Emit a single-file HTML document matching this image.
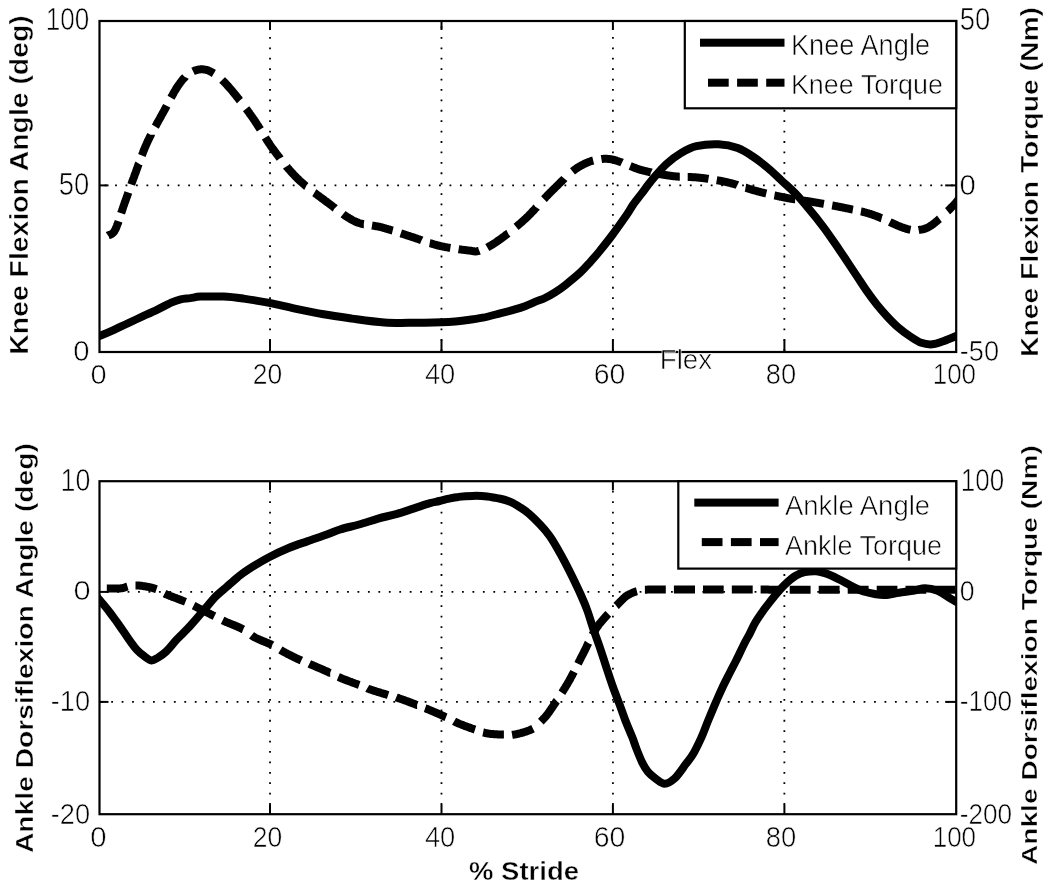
<!DOCTYPE html>
<html><head><meta charset="utf-8"><style>
html,body{margin:0;padding:0;background:#fff;}
svg{display:block;will-change:transform;}
text{font-family:"Liberation Sans",sans-serif;fill:#000;stroke:#fff;stroke-width:0.6px;}
.bt{stroke-width:0.45px;}
.g{stroke:#000;stroke-width:1.6;stroke-dasharray:1.6 8.8;fill:none;}
.c{stroke:#000;stroke-width:8;fill:none;stroke-linejoin:round;}
.d{stroke-dasharray:21 8.5;stroke-dashoffset:6;}
.ax{fill:none;stroke:#000;stroke-width:2.2;}
.tk{stroke:#000;stroke-width:2;}
.lg{fill:#fff;stroke:#000;stroke-width:2.2;}
</style></head><body>
<svg width="1050" height="890" viewBox="0 0 1050 890">
<defs><clipPath id="c1"><rect x="99.5" y="21" width="856.7" height="331"/></clipPath><clipPath id="c2"><rect x="99.5" y="481.2" width="856.7" height="333"/></clipPath></defs>
<rect width="1050" height="890" fill="#fff"/>
<path d="M269.14,26.59h1.8v1.8h-1.8zM269.14,37.00h1.8v1.8h-1.8zM269.14,47.41h1.8v1.8h-1.8zM269.14,57.82h1.8v1.8h-1.8zM269.14,68.23h1.8v1.8h-1.8zM269.14,78.64h1.8v1.8h-1.8zM269.14,89.05h1.8v1.8h-1.8zM269.14,99.46h1.8v1.8h-1.8zM269.14,109.87h1.8v1.8h-1.8zM269.14,120.28h1.8v1.8h-1.8zM269.14,130.69h1.8v1.8h-1.8zM269.14,141.10h1.8v1.8h-1.8zM269.14,151.51h1.8v1.8h-1.8zM269.14,161.92h1.8v1.8h-1.8zM269.14,172.33h1.8v1.8h-1.8zM269.14,182.74h1.8v1.8h-1.8zM269.14,193.15h1.8v1.8h-1.8zM269.14,203.56h1.8v1.8h-1.8zM269.14,213.97h1.8v1.8h-1.8zM269.14,224.38h1.8v1.8h-1.8zM269.14,234.79h1.8v1.8h-1.8zM269.14,245.20h1.8v1.8h-1.8zM269.14,255.61h1.8v1.8h-1.8zM269.14,266.02h1.8v1.8h-1.8zM269.14,276.43h1.8v1.8h-1.8zM269.14,286.84h1.8v1.8h-1.8zM269.14,297.25h1.8v1.8h-1.8zM269.14,307.66h1.8v1.8h-1.8zM269.14,318.07h1.8v1.8h-1.8zM269.14,328.48h1.8v1.8h-1.8zM269.14,338.89h1.8v1.8h-1.8zM269.14,349.30h1.8v1.8h-1.8zM269.14,490.81h1.8v1.8h-1.8zM269.14,501.22h1.8v1.8h-1.8zM269.14,511.63h1.8v1.8h-1.8zM269.14,522.04h1.8v1.8h-1.8zM269.14,532.45h1.8v1.8h-1.8zM269.14,542.86h1.8v1.8h-1.8zM269.14,553.27h1.8v1.8h-1.8zM269.14,563.68h1.8v1.8h-1.8zM269.14,574.09h1.8v1.8h-1.8zM269.14,584.50h1.8v1.8h-1.8zM269.14,594.91h1.8v1.8h-1.8zM269.14,605.32h1.8v1.8h-1.8zM269.14,615.73h1.8v1.8h-1.8zM269.14,626.14h1.8v1.8h-1.8zM269.14,636.55h1.8v1.8h-1.8zM269.14,646.96h1.8v1.8h-1.8zM269.14,657.37h1.8v1.8h-1.8zM269.14,667.78h1.8v1.8h-1.8zM269.14,678.19h1.8v1.8h-1.8zM269.14,688.60h1.8v1.8h-1.8zM269.14,699.01h1.8v1.8h-1.8zM269.14,709.42h1.8v1.8h-1.8zM269.14,719.83h1.8v1.8h-1.8zM269.14,730.24h1.8v1.8h-1.8zM269.14,740.65h1.8v1.8h-1.8zM269.14,751.06h1.8v1.8h-1.8zM269.14,761.47h1.8v1.8h-1.8zM269.14,771.88h1.8v1.8h-1.8zM269.14,782.29h1.8v1.8h-1.8zM269.14,792.70h1.8v1.8h-1.8zM269.14,803.11h1.8v1.8h-1.8zM440.58,26.59h1.8v1.8h-1.8zM440.58,37.00h1.8v1.8h-1.8zM440.58,47.41h1.8v1.8h-1.8zM440.58,57.82h1.8v1.8h-1.8zM440.58,68.23h1.8v1.8h-1.8zM440.58,78.64h1.8v1.8h-1.8zM440.58,89.05h1.8v1.8h-1.8zM440.58,99.46h1.8v1.8h-1.8zM440.58,109.87h1.8v1.8h-1.8zM440.58,120.28h1.8v1.8h-1.8zM440.58,130.69h1.8v1.8h-1.8zM440.58,141.10h1.8v1.8h-1.8zM440.58,151.51h1.8v1.8h-1.8zM440.58,161.92h1.8v1.8h-1.8zM440.58,172.33h1.8v1.8h-1.8zM440.58,182.74h1.8v1.8h-1.8zM440.58,193.15h1.8v1.8h-1.8zM440.58,203.56h1.8v1.8h-1.8zM440.58,213.97h1.8v1.8h-1.8zM440.58,224.38h1.8v1.8h-1.8zM440.58,234.79h1.8v1.8h-1.8zM440.58,245.20h1.8v1.8h-1.8zM440.58,255.61h1.8v1.8h-1.8zM440.58,266.02h1.8v1.8h-1.8zM440.58,276.43h1.8v1.8h-1.8zM440.58,286.84h1.8v1.8h-1.8zM440.58,297.25h1.8v1.8h-1.8zM440.58,307.66h1.8v1.8h-1.8zM440.58,318.07h1.8v1.8h-1.8zM440.58,328.48h1.8v1.8h-1.8zM440.58,338.89h1.8v1.8h-1.8zM440.58,349.30h1.8v1.8h-1.8zM440.58,490.81h1.8v1.8h-1.8zM440.58,501.22h1.8v1.8h-1.8zM440.58,511.63h1.8v1.8h-1.8zM440.58,522.04h1.8v1.8h-1.8zM440.58,532.45h1.8v1.8h-1.8zM440.58,542.86h1.8v1.8h-1.8zM440.58,553.27h1.8v1.8h-1.8zM440.58,563.68h1.8v1.8h-1.8zM440.58,574.09h1.8v1.8h-1.8zM440.58,584.50h1.8v1.8h-1.8zM440.58,594.91h1.8v1.8h-1.8zM440.58,605.32h1.8v1.8h-1.8zM440.58,615.73h1.8v1.8h-1.8zM440.58,626.14h1.8v1.8h-1.8zM440.58,636.55h1.8v1.8h-1.8zM440.58,646.96h1.8v1.8h-1.8zM440.58,657.37h1.8v1.8h-1.8zM440.58,667.78h1.8v1.8h-1.8zM440.58,678.19h1.8v1.8h-1.8zM440.58,688.60h1.8v1.8h-1.8zM440.58,699.01h1.8v1.8h-1.8zM440.58,709.42h1.8v1.8h-1.8zM440.58,719.83h1.8v1.8h-1.8zM440.58,730.24h1.8v1.8h-1.8zM440.58,740.65h1.8v1.8h-1.8zM440.58,751.06h1.8v1.8h-1.8zM440.58,761.47h1.8v1.8h-1.8zM440.58,771.88h1.8v1.8h-1.8zM440.58,782.29h1.8v1.8h-1.8zM440.58,792.70h1.8v1.8h-1.8zM440.58,803.11h1.8v1.8h-1.8zM612.02,26.59h1.8v1.8h-1.8zM612.02,37.00h1.8v1.8h-1.8zM612.02,47.41h1.8v1.8h-1.8zM612.02,57.82h1.8v1.8h-1.8zM612.02,68.23h1.8v1.8h-1.8zM612.02,78.64h1.8v1.8h-1.8zM612.02,89.05h1.8v1.8h-1.8zM612.02,99.46h1.8v1.8h-1.8zM612.02,109.87h1.8v1.8h-1.8zM612.02,120.28h1.8v1.8h-1.8zM612.02,130.69h1.8v1.8h-1.8zM612.02,141.10h1.8v1.8h-1.8zM612.02,151.51h1.8v1.8h-1.8zM612.02,161.92h1.8v1.8h-1.8zM612.02,172.33h1.8v1.8h-1.8zM612.02,182.74h1.8v1.8h-1.8zM612.02,193.15h1.8v1.8h-1.8zM612.02,203.56h1.8v1.8h-1.8zM612.02,213.97h1.8v1.8h-1.8zM612.02,224.38h1.8v1.8h-1.8zM612.02,234.79h1.8v1.8h-1.8zM612.02,245.20h1.8v1.8h-1.8zM612.02,255.61h1.8v1.8h-1.8zM612.02,266.02h1.8v1.8h-1.8zM612.02,276.43h1.8v1.8h-1.8zM612.02,286.84h1.8v1.8h-1.8zM612.02,297.25h1.8v1.8h-1.8zM612.02,307.66h1.8v1.8h-1.8zM612.02,318.07h1.8v1.8h-1.8zM612.02,328.48h1.8v1.8h-1.8zM612.02,338.89h1.8v1.8h-1.8zM612.02,349.30h1.8v1.8h-1.8zM612.02,490.81h1.8v1.8h-1.8zM612.02,501.22h1.8v1.8h-1.8zM612.02,511.63h1.8v1.8h-1.8zM612.02,522.04h1.8v1.8h-1.8zM612.02,532.45h1.8v1.8h-1.8zM612.02,542.86h1.8v1.8h-1.8zM612.02,553.27h1.8v1.8h-1.8zM612.02,563.68h1.8v1.8h-1.8zM612.02,574.09h1.8v1.8h-1.8zM612.02,584.50h1.8v1.8h-1.8zM612.02,594.91h1.8v1.8h-1.8zM612.02,605.32h1.8v1.8h-1.8zM612.02,615.73h1.8v1.8h-1.8zM612.02,626.14h1.8v1.8h-1.8zM612.02,636.55h1.8v1.8h-1.8zM612.02,646.96h1.8v1.8h-1.8zM612.02,657.37h1.8v1.8h-1.8zM612.02,667.78h1.8v1.8h-1.8zM612.02,678.19h1.8v1.8h-1.8zM612.02,688.60h1.8v1.8h-1.8zM612.02,699.01h1.8v1.8h-1.8zM612.02,709.42h1.8v1.8h-1.8zM612.02,719.83h1.8v1.8h-1.8zM612.02,730.24h1.8v1.8h-1.8zM612.02,740.65h1.8v1.8h-1.8zM612.02,751.06h1.8v1.8h-1.8zM612.02,761.47h1.8v1.8h-1.8zM612.02,771.88h1.8v1.8h-1.8zM612.02,782.29h1.8v1.8h-1.8zM612.02,792.70h1.8v1.8h-1.8zM612.02,803.11h1.8v1.8h-1.8zM783.46,26.59h1.8v1.8h-1.8zM783.46,37.00h1.8v1.8h-1.8zM783.46,47.41h1.8v1.8h-1.8zM783.46,57.82h1.8v1.8h-1.8zM783.46,68.23h1.8v1.8h-1.8zM783.46,78.64h1.8v1.8h-1.8zM783.46,89.05h1.8v1.8h-1.8zM783.46,99.46h1.8v1.8h-1.8zM783.46,109.87h1.8v1.8h-1.8zM783.46,120.28h1.8v1.8h-1.8zM783.46,130.69h1.8v1.8h-1.8zM783.46,141.10h1.8v1.8h-1.8zM783.46,151.51h1.8v1.8h-1.8zM783.46,161.92h1.8v1.8h-1.8zM783.46,172.33h1.8v1.8h-1.8zM783.46,182.74h1.8v1.8h-1.8zM783.46,193.15h1.8v1.8h-1.8zM783.46,203.56h1.8v1.8h-1.8zM783.46,213.97h1.8v1.8h-1.8zM783.46,224.38h1.8v1.8h-1.8zM783.46,234.79h1.8v1.8h-1.8zM783.46,245.20h1.8v1.8h-1.8zM783.46,255.61h1.8v1.8h-1.8zM783.46,266.02h1.8v1.8h-1.8zM783.46,276.43h1.8v1.8h-1.8zM783.46,286.84h1.8v1.8h-1.8zM783.46,297.25h1.8v1.8h-1.8zM783.46,307.66h1.8v1.8h-1.8zM783.46,318.07h1.8v1.8h-1.8zM783.46,328.48h1.8v1.8h-1.8zM783.46,338.89h1.8v1.8h-1.8zM783.46,349.30h1.8v1.8h-1.8zM783.46,490.81h1.8v1.8h-1.8zM783.46,501.22h1.8v1.8h-1.8zM783.46,511.63h1.8v1.8h-1.8zM783.46,522.04h1.8v1.8h-1.8zM783.46,532.45h1.8v1.8h-1.8zM783.46,542.86h1.8v1.8h-1.8zM783.46,553.27h1.8v1.8h-1.8zM783.46,563.68h1.8v1.8h-1.8zM783.46,574.09h1.8v1.8h-1.8zM783.46,584.50h1.8v1.8h-1.8zM783.46,594.91h1.8v1.8h-1.8zM783.46,605.32h1.8v1.8h-1.8zM783.46,615.73h1.8v1.8h-1.8zM783.46,626.14h1.8v1.8h-1.8zM783.46,636.55h1.8v1.8h-1.8zM783.46,646.96h1.8v1.8h-1.8zM783.46,657.37h1.8v1.8h-1.8zM783.46,667.78h1.8v1.8h-1.8zM783.46,678.19h1.8v1.8h-1.8zM783.46,688.60h1.8v1.8h-1.8zM783.46,699.01h1.8v1.8h-1.8zM783.46,709.42h1.8v1.8h-1.8zM783.46,719.83h1.8v1.8h-1.8zM783.46,730.24h1.8v1.8h-1.8zM783.46,740.65h1.8v1.8h-1.8zM783.46,751.06h1.8v1.8h-1.8zM783.46,761.47h1.8v1.8h-1.8zM783.46,771.88h1.8v1.8h-1.8zM783.46,782.29h1.8v1.8h-1.8zM783.46,792.70h1.8v1.8h-1.8zM783.46,803.11h1.8v1.8h-1.8zM104.65,184.50h1.8v1.8h-1.8zM115.10,184.50h1.8v1.8h-1.8zM125.55,184.50h1.8v1.8h-1.8zM136.00,184.50h1.8v1.8h-1.8zM146.45,184.50h1.8v1.8h-1.8zM156.90,184.50h1.8v1.8h-1.8zM167.35,184.50h1.8v1.8h-1.8zM177.80,184.50h1.8v1.8h-1.8zM188.25,184.50h1.8v1.8h-1.8zM198.70,184.50h1.8v1.8h-1.8zM209.15,184.50h1.8v1.8h-1.8zM219.60,184.50h1.8v1.8h-1.8zM230.05,184.50h1.8v1.8h-1.8zM240.50,184.50h1.8v1.8h-1.8zM250.95,184.50h1.8v1.8h-1.8zM261.40,184.50h1.8v1.8h-1.8zM271.85,184.50h1.8v1.8h-1.8zM282.30,184.50h1.8v1.8h-1.8zM292.75,184.50h1.8v1.8h-1.8zM303.20,184.50h1.8v1.8h-1.8zM313.65,184.50h1.8v1.8h-1.8zM324.10,184.50h1.8v1.8h-1.8zM334.55,184.50h1.8v1.8h-1.8zM345.00,184.50h1.8v1.8h-1.8zM355.45,184.50h1.8v1.8h-1.8zM365.90,184.50h1.8v1.8h-1.8zM376.35,184.50h1.8v1.8h-1.8zM386.80,184.50h1.8v1.8h-1.8zM397.25,184.50h1.8v1.8h-1.8zM407.70,184.50h1.8v1.8h-1.8zM418.15,184.50h1.8v1.8h-1.8zM428.60,184.50h1.8v1.8h-1.8zM439.05,184.50h1.8v1.8h-1.8zM449.50,184.50h1.8v1.8h-1.8zM459.95,184.50h1.8v1.8h-1.8zM470.40,184.50h1.8v1.8h-1.8zM480.85,184.50h1.8v1.8h-1.8zM491.30,184.50h1.8v1.8h-1.8zM501.75,184.50h1.8v1.8h-1.8zM512.20,184.50h1.8v1.8h-1.8zM522.65,184.50h1.8v1.8h-1.8zM533.10,184.50h1.8v1.8h-1.8zM543.55,184.50h1.8v1.8h-1.8zM554.00,184.50h1.8v1.8h-1.8zM564.45,184.50h1.8v1.8h-1.8zM574.90,184.50h1.8v1.8h-1.8zM585.35,184.50h1.8v1.8h-1.8zM595.80,184.50h1.8v1.8h-1.8zM606.25,184.50h1.8v1.8h-1.8zM616.70,184.50h1.8v1.8h-1.8zM627.15,184.50h1.8v1.8h-1.8zM637.60,184.50h1.8v1.8h-1.8zM648.05,184.50h1.8v1.8h-1.8zM658.50,184.50h1.8v1.8h-1.8zM668.95,184.50h1.8v1.8h-1.8zM679.40,184.50h1.8v1.8h-1.8zM689.85,184.50h1.8v1.8h-1.8zM700.30,184.50h1.8v1.8h-1.8zM710.75,184.50h1.8v1.8h-1.8zM721.20,184.50h1.8v1.8h-1.8zM731.65,184.50h1.8v1.8h-1.8zM742.10,184.50h1.8v1.8h-1.8zM752.55,184.50h1.8v1.8h-1.8zM763.00,184.50h1.8v1.8h-1.8zM773.45,184.50h1.8v1.8h-1.8zM783.90,184.50h1.8v1.8h-1.8zM794.35,184.50h1.8v1.8h-1.8zM804.80,184.50h1.8v1.8h-1.8zM815.25,184.50h1.8v1.8h-1.8zM825.70,184.50h1.8v1.8h-1.8zM836.15,184.50h1.8v1.8h-1.8zM846.60,184.50h1.8v1.8h-1.8zM857.05,184.50h1.8v1.8h-1.8zM867.50,184.50h1.8v1.8h-1.8zM877.95,184.50h1.8v1.8h-1.8zM888.40,184.50h1.8v1.8h-1.8zM898.85,184.50h1.8v1.8h-1.8zM909.30,184.50h1.8v1.8h-1.8zM919.75,184.50h1.8v1.8h-1.8zM930.20,184.50h1.8v1.8h-1.8zM940.65,184.50h1.8v1.8h-1.8zM951.10,184.50h1.8v1.8h-1.8zM106.70,591.00h1.8v1.8h-1.8zM117.15,591.00h1.8v1.8h-1.8zM127.60,591.00h1.8v1.8h-1.8zM138.05,591.00h1.8v1.8h-1.8zM148.50,591.00h1.8v1.8h-1.8zM158.95,591.00h1.8v1.8h-1.8zM169.40,591.00h1.8v1.8h-1.8zM179.85,591.00h1.8v1.8h-1.8zM190.30,591.00h1.8v1.8h-1.8zM200.75,591.00h1.8v1.8h-1.8zM211.20,591.00h1.8v1.8h-1.8zM221.65,591.00h1.8v1.8h-1.8zM232.10,591.00h1.8v1.8h-1.8zM242.55,591.00h1.8v1.8h-1.8zM253.00,591.00h1.8v1.8h-1.8zM263.45,591.00h1.8v1.8h-1.8zM273.90,591.00h1.8v1.8h-1.8zM284.35,591.00h1.8v1.8h-1.8zM294.80,591.00h1.8v1.8h-1.8zM305.25,591.00h1.8v1.8h-1.8zM315.70,591.00h1.8v1.8h-1.8zM326.15,591.00h1.8v1.8h-1.8zM336.60,591.00h1.8v1.8h-1.8zM347.05,591.00h1.8v1.8h-1.8zM357.50,591.00h1.8v1.8h-1.8zM367.95,591.00h1.8v1.8h-1.8zM378.40,591.00h1.8v1.8h-1.8zM388.85,591.00h1.8v1.8h-1.8zM399.30,591.00h1.8v1.8h-1.8zM409.75,591.00h1.8v1.8h-1.8zM420.20,591.00h1.8v1.8h-1.8zM430.65,591.00h1.8v1.8h-1.8zM441.10,591.00h1.8v1.8h-1.8zM451.55,591.00h1.8v1.8h-1.8zM462.00,591.00h1.8v1.8h-1.8zM472.45,591.00h1.8v1.8h-1.8zM482.90,591.00h1.8v1.8h-1.8zM493.35,591.00h1.8v1.8h-1.8zM503.80,591.00h1.8v1.8h-1.8zM514.25,591.00h1.8v1.8h-1.8zM524.70,591.00h1.8v1.8h-1.8zM535.15,591.00h1.8v1.8h-1.8zM545.60,591.00h1.8v1.8h-1.8zM556.05,591.00h1.8v1.8h-1.8zM566.50,591.00h1.8v1.8h-1.8zM576.95,591.00h1.8v1.8h-1.8zM587.40,591.00h1.8v1.8h-1.8zM597.85,591.00h1.8v1.8h-1.8zM608.30,591.00h1.8v1.8h-1.8zM618.75,591.00h1.8v1.8h-1.8zM629.20,591.00h1.8v1.8h-1.8zM639.65,591.00h1.8v1.8h-1.8zM650.10,591.00h1.8v1.8h-1.8zM660.55,591.00h1.8v1.8h-1.8zM671.00,591.00h1.8v1.8h-1.8zM681.45,591.00h1.8v1.8h-1.8zM691.90,591.00h1.8v1.8h-1.8zM702.35,591.00h1.8v1.8h-1.8zM712.80,591.00h1.8v1.8h-1.8zM723.25,591.00h1.8v1.8h-1.8zM733.70,591.00h1.8v1.8h-1.8zM744.15,591.00h1.8v1.8h-1.8zM754.60,591.00h1.8v1.8h-1.8zM765.05,591.00h1.8v1.8h-1.8zM775.50,591.00h1.8v1.8h-1.8zM785.95,591.00h1.8v1.8h-1.8zM796.40,591.00h1.8v1.8h-1.8zM806.85,591.00h1.8v1.8h-1.8zM817.30,591.00h1.8v1.8h-1.8zM827.75,591.00h1.8v1.8h-1.8zM838.20,591.00h1.8v1.8h-1.8zM848.65,591.00h1.8v1.8h-1.8zM859.10,591.00h1.8v1.8h-1.8zM869.55,591.00h1.8v1.8h-1.8zM880.00,591.00h1.8v1.8h-1.8zM890.45,591.00h1.8v1.8h-1.8zM900.90,591.00h1.8v1.8h-1.8zM911.35,591.00h1.8v1.8h-1.8zM921.80,591.00h1.8v1.8h-1.8zM932.25,591.00h1.8v1.8h-1.8zM942.70,591.00h1.8v1.8h-1.8zM953.15,591.00h1.8v1.8h-1.8zM100.75,701.00h1.8v1.8h-1.8zM111.20,701.00h1.8v1.8h-1.8zM121.65,701.00h1.8v1.8h-1.8zM132.10,701.00h1.8v1.8h-1.8zM142.55,701.00h1.8v1.8h-1.8zM153.00,701.00h1.8v1.8h-1.8zM163.45,701.00h1.8v1.8h-1.8zM173.90,701.00h1.8v1.8h-1.8zM184.35,701.00h1.8v1.8h-1.8zM194.80,701.00h1.8v1.8h-1.8zM205.25,701.00h1.8v1.8h-1.8zM215.70,701.00h1.8v1.8h-1.8zM226.15,701.00h1.8v1.8h-1.8zM236.60,701.00h1.8v1.8h-1.8zM247.05,701.00h1.8v1.8h-1.8zM257.50,701.00h1.8v1.8h-1.8zM267.95,701.00h1.8v1.8h-1.8zM278.40,701.00h1.8v1.8h-1.8zM288.85,701.00h1.8v1.8h-1.8zM299.30,701.00h1.8v1.8h-1.8zM309.75,701.00h1.8v1.8h-1.8zM320.20,701.00h1.8v1.8h-1.8zM330.65,701.00h1.8v1.8h-1.8zM341.10,701.00h1.8v1.8h-1.8zM351.55,701.00h1.8v1.8h-1.8zM362.00,701.00h1.8v1.8h-1.8zM372.45,701.00h1.8v1.8h-1.8zM382.90,701.00h1.8v1.8h-1.8zM393.35,701.00h1.8v1.8h-1.8zM403.80,701.00h1.8v1.8h-1.8zM414.25,701.00h1.8v1.8h-1.8zM424.70,701.00h1.8v1.8h-1.8zM435.15,701.00h1.8v1.8h-1.8zM445.60,701.00h1.8v1.8h-1.8zM456.05,701.00h1.8v1.8h-1.8zM466.50,701.00h1.8v1.8h-1.8zM476.95,701.00h1.8v1.8h-1.8zM487.40,701.00h1.8v1.8h-1.8zM497.85,701.00h1.8v1.8h-1.8zM508.30,701.00h1.8v1.8h-1.8zM518.75,701.00h1.8v1.8h-1.8zM529.20,701.00h1.8v1.8h-1.8zM539.65,701.00h1.8v1.8h-1.8zM550.10,701.00h1.8v1.8h-1.8zM560.55,701.00h1.8v1.8h-1.8zM571.00,701.00h1.8v1.8h-1.8zM581.45,701.00h1.8v1.8h-1.8zM591.90,701.00h1.8v1.8h-1.8zM602.35,701.00h1.8v1.8h-1.8zM612.80,701.00h1.8v1.8h-1.8zM623.25,701.00h1.8v1.8h-1.8zM633.70,701.00h1.8v1.8h-1.8zM644.15,701.00h1.8v1.8h-1.8zM654.60,701.00h1.8v1.8h-1.8zM665.05,701.00h1.8v1.8h-1.8zM675.50,701.00h1.8v1.8h-1.8zM685.95,701.00h1.8v1.8h-1.8zM696.40,701.00h1.8v1.8h-1.8zM706.85,701.00h1.8v1.8h-1.8zM717.30,701.00h1.8v1.8h-1.8zM727.75,701.00h1.8v1.8h-1.8zM738.20,701.00h1.8v1.8h-1.8zM748.65,701.00h1.8v1.8h-1.8zM759.10,701.00h1.8v1.8h-1.8zM769.55,701.00h1.8v1.8h-1.8zM780.00,701.00h1.8v1.8h-1.8zM790.45,701.00h1.8v1.8h-1.8zM800.90,701.00h1.8v1.8h-1.8zM811.35,701.00h1.8v1.8h-1.8zM821.80,701.00h1.8v1.8h-1.8zM832.25,701.00h1.8v1.8h-1.8zM842.70,701.00h1.8v1.8h-1.8zM853.15,701.00h1.8v1.8h-1.8zM863.60,701.00h1.8v1.8h-1.8zM874.05,701.00h1.8v1.8h-1.8zM884.50,701.00h1.8v1.8h-1.8zM894.95,701.00h1.8v1.8h-1.8zM905.40,701.00h1.8v1.8h-1.8zM915.85,701.00h1.8v1.8h-1.8zM926.30,701.00h1.8v1.8h-1.8zM936.75,701.00h1.8v1.8h-1.8zM947.20,701.00h1.8v1.8h-1.8z" fill="#000"/>
<g clip-path="url(#c1)">
<path d="M92.0,338.9 C93.5,338.3 97.0,337.0 100.7,335.5 C104.4,334.0 109.4,331.9 114.0,329.8 C118.6,327.7 123.5,325.3 128.3,323.1 C133.1,320.9 137.8,318.6 142.6,316.4 C147.4,314.2 152.1,312.1 156.9,309.8 C161.7,307.5 167.2,304.4 171.2,302.6 C175.2,300.9 177.5,300.1 180.7,299.3 C183.9,298.6 186.9,298.6 190.2,298.1 C193.5,297.7 195.1,296.9 200.7,296.6 C206.3,296.4 216.4,296.3 223.6,296.6 C230.8,296.9 236.0,297.6 243.6,298.6 C251.2,299.7 260.7,301.2 269.3,302.9 C277.9,304.6 285.9,306.7 295.0,308.6 C304.1,310.5 314.1,312.6 323.6,314.3 C333.1,316.0 342.0,317.2 352.1,318.6 C362.2,320.0 374.0,321.8 384.4,322.5 C394.8,323.2 403.6,322.9 414.3,322.8 C425.0,322.7 440.0,322.4 448.6,322.0 C457.2,321.6 460.0,321.0 465.7,320.3 C471.4,319.6 477.2,318.9 482.9,317.7 C488.6,316.5 494.6,314.8 500.0,313.4 C505.4,312.0 510.8,310.6 515.0,309.4 C519.2,308.2 521.7,307.4 525.0,306.2 C528.3,304.9 531.7,303.3 535.0,301.9 C538.3,300.5 541.7,299.6 545.0,298.0 C548.3,296.4 551.7,294.5 555.0,292.4 C558.3,290.3 560.8,288.6 565.0,285.3 C569.2,282.0 575.8,276.6 580.0,272.8 C584.2,269.0 586.7,266.0 590.0,262.3 C593.3,258.6 596.3,255.2 600.0,250.7 C603.7,246.1 607.9,240.9 612.3,235.0 C616.7,229.1 623.1,220.0 626.6,215.0 C630.1,210.0 630.5,208.5 633.0,204.9 C635.5,201.3 639.1,197.0 641.6,193.7 C644.1,190.4 645.9,187.7 648.0,185.0 C650.1,182.3 651.0,181.0 654.0,177.6 C657.0,174.2 661.5,168.5 666.0,164.4 C670.5,160.3 676.2,155.9 681.3,152.9 C686.4,149.9 690.3,147.6 696.5,146.2 C702.7,144.8 711.7,144.0 718.6,144.3 C725.5,144.6 732.0,146.0 737.7,148.1 C743.4,150.2 747.9,153.3 753.0,156.7 C758.1,160.0 763.4,164.2 768.2,168.2 C773.0,172.2 777.1,176.5 781.6,180.6 C786.1,184.7 790.5,188.4 795.0,193.0 C799.5,197.6 803.5,202.5 808.3,208.2 C813.1,213.9 818.4,220.4 823.6,227.3 C828.8,234.2 835.2,243.8 839.4,249.9 C843.6,256.0 845.8,259.4 848.9,264.1 C852.0,268.8 855.1,273.5 858.3,278.2 C861.4,282.9 864.6,287.9 867.8,292.4 C870.9,296.9 874.1,301.1 877.2,305.0 C880.4,308.9 883.3,312.3 886.7,316.0 C890.1,319.7 893.8,323.6 897.7,327.0 C901.6,330.4 906.4,333.9 910.3,336.5 C914.2,339.1 917.6,341.5 921.3,342.8 C925.0,344.1 928.6,344.6 932.3,344.3 C936.0,344.0 939.5,342.5 943.3,341.2 C947.1,339.9 952.3,337.7 955.1,336.5 C957.9,335.3 959.2,334.4 960.0,334.0" class="c"/>
<path d="M108.0,235.5 108.3,235.3 108.6,235.2 108.9,235.1 109.3,235.0 109.8,234.8 110.2,234.7 110.7,234.5 111.3,234.2 111.8,233.9 112.4,233.5 112.9,233.0 113.5,232.4 114.1,231.7 114.6,230.8 115.2,229.8 115.4,229.4 115.6,229.1 115.7,228.7 115.9,228.3 116.1,227.9 116.3,227.4 116.5,227.0 116.6,226.5 116.8,226.0 117.0,225.6 117.2,225.1 117.4,224.5 117.6,224.0 117.8,223.5 118.0,222.9 118.2,222.4 118.4,221.8 118.6,221.2M121.2,213.2 121.4,212.6 121.6,211.9 121.9,211.3 122.1,210.6 122.3,210.0 122.5,209.3 122.7,208.7 122.9,208.1 123.1,207.4 123.3,206.8 123.5,206.2 123.7,205.5 124.0,204.9 124.2,204.3 124.4,203.7 124.6,203.1 124.8,202.5 125.0,202.0 125.2,201.4 125.4,200.9 125.6,200.3 125.8,199.8 126.0,199.2 126.2,198.7 126.4,198.1 126.6,197.5 126.8,197.0 127.0,196.4 127.2,195.9 127.4,195.3 127.6,194.8 127.8,194.2 128.0,193.6 128.2,193.1 128.4,192.5M131.3,184.4 131.5,183.8 131.7,183.2 131.9,182.7 132.1,182.1 132.3,181.5 132.5,181.0 132.7,180.4 132.9,179.8 133.1,179.2 133.3,178.7 133.6,178.1 133.8,177.5 134.0,176.9 134.2,176.4 134.4,175.8 134.6,175.2 134.8,174.6 135.0,174.1 135.3,173.5 135.5,172.9 135.7,172.4 135.9,171.8 136.1,171.2 136.3,170.7 136.5,170.1 136.7,169.6 136.9,169.0 137.1,168.5 137.3,167.9 137.5,167.3 137.7,166.8 137.9,166.2 138.1,165.6 138.3,165.1 138.5,164.5 138.7,163.9 138.9,163.6M141.9,155.4 142.1,154.9 142.3,154.3 142.5,153.7 142.7,153.2 143.0,152.6 143.2,152.0 143.4,151.5 143.6,150.9 143.9,150.3 144.1,149.8 144.3,149.2 144.5,148.6 144.8,148.1 145.0,147.5 145.2,147.0 145.5,146.4 145.7,145.8 146.0,145.3 146.2,144.7 146.4,144.2 146.7,143.6 146.9,143.1 147.2,142.5 147.4,142.0 147.7,141.4 147.9,140.9 148.2,140.3 148.5,139.8 148.7,139.3 149.0,138.7 149.2,138.2 149.5,137.6 149.8,137.1 150.0,136.6 150.3,136.0 150.6,135.5 150.9,135.0 150.9,134.8M155.3,126.6 155.6,126.1 155.9,125.6 156.2,125.0 156.5,124.5 156.8,124.0 157.0,123.4 157.3,122.9 157.6,122.4 157.9,121.9 158.2,121.3 158.5,120.8 158.8,120.3 159.1,119.8 159.4,119.2 159.7,118.7 160.0,118.2 160.3,117.6 160.6,117.1 160.9,116.6 161.1,116.1 161.4,115.5 161.7,115.0 162.0,114.5 162.3,114.0 162.6,113.4 162.9,112.9 163.2,112.4 163.5,111.8 163.8,111.3 164.1,110.7 164.4,110.2 164.7,109.6 165.0,109.1 165.3,108.5 165.6,107.9 165.9,107.4 166.2,106.8 166.5,106.2 166.7,105.8M171.0,97.7 171.3,97.2 171.6,96.6 172.0,96.1 172.3,95.5 172.6,95.0 172.9,94.4 173.2,93.9 173.4,93.4 173.7,92.9 174.0,92.3 174.3,91.8 174.6,91.3 174.9,90.8 175.2,90.4 175.5,89.9 175.8,89.4 176.1,88.9 176.3,88.5 176.6,88.0 176.9,87.6 177.2,87.1 177.4,86.7 177.7,86.3 178.0,85.9 178.3,85.5 178.5,85.1 178.9,84.5 179.4,83.9 179.9,83.2 180.3,82.6 180.8,82.0 181.2,81.4 181.6,80.9 182.1,80.3 182.5,79.8 182.9,79.3 183.3,78.9 183.7,78.4 184.2,78.0 184.6,77.6 185.0,77.2 185.1,77.0M193.1,71.4 193.7,71.1 194.2,70.9 194.8,70.6 195.4,70.4 196.0,70.2 196.6,70.1 197.2,69.9 197.8,69.8 198.4,69.6 199.0,69.5 199.6,69.5 200.2,69.4 200.8,69.3 201.3,69.3 201.9,69.3 202.5,69.3 203.1,69.4 203.7,69.4 204.3,69.5 204.9,69.6 205.4,69.7 205.9,69.8 206.4,69.9 207.0,70.1 207.5,70.2 208.0,70.4 208.6,70.6 209.1,70.9 209.6,71.1 210.1,71.3 210.7,71.6 211.2,71.9 211.7,72.2 212.3,72.5 212.8,72.8 213.3,73.2 213.8,73.5M222.1,80.0 222.5,80.4 222.9,80.7 223.3,81.1 223.7,81.5 224.1,81.9 224.5,82.3 224.9,82.7 225.3,83.1 225.7,83.6 226.1,84.0 226.5,84.5 227.0,84.9 227.4,85.4 227.8,85.9 228.3,86.4 228.7,86.9 229.2,87.4 229.6,87.9 230.1,88.5 230.6,89.0 231.1,89.6 231.6,90.2 232.1,90.8 232.5,91.3 232.8,91.7 233.1,92.1 233.5,92.5 233.8,92.9 234.1,93.3 234.4,93.7 234.8,94.1 235.1,94.5 235.5,94.9 235.8,95.3 236.1,95.8 236.5,96.2 236.8,96.7 237.2,97.1 237.6,97.6 237.9,98.0 238.3,98.5 238.7,98.9 239.0,99.4 239.4,99.9 239.8,100.4 239.9,100.5M246.1,108.7 246.5,109.2 246.9,109.7 247.3,110.2 247.6,110.8 248.0,111.3 248.4,111.8 248.8,112.3 249.2,112.8 249.5,113.4 249.9,113.9 250.3,114.4 250.7,114.9 251.0,115.4 251.4,115.9 251.8,116.5 252.1,117.0 252.5,117.5 252.8,118.0 253.2,118.5 253.5,119.0 253.9,119.5 254.2,119.9 254.5,120.4 254.9,120.9 255.2,121.4 255.5,121.9 255.8,122.4 256.2,122.9 256.5,123.4 256.8,123.9 257.1,124.4 257.4,124.9 257.8,125.4 258.1,125.9 258.4,126.4 258.7,126.9 259.0,127.4 259.4,127.9 259.7,128.4 260.0,128.9 260.3,129.4M265.3,137.5 265.6,138.0 265.9,138.5 266.2,139.0 266.6,139.5 266.9,140.1 267.2,140.6 267.6,141.1 267.9,141.6 268.2,142.1 268.6,142.6 268.9,143.1 269.2,143.6 269.6,144.1 269.9,144.6 270.3,145.2 270.6,145.7 271.0,146.2 271.3,146.7 271.7,147.2 272.0,147.7 272.4,148.2 272.8,148.7 273.1,149.2 273.5,149.6 273.8,150.1 274.2,150.6 274.5,151.0 274.9,151.5 275.2,152.0 275.6,152.5 275.9,152.9 276.3,153.4 276.6,153.9 277.0,154.4 277.4,154.9 277.7,155.3 278.1,155.8 278.4,156.3 278.8,156.8 279.2,157.2 279.5,157.7 279.9,158.2 280.0,158.4M286.5,166.4 286.8,166.9 287.2,167.3 287.6,167.8 288.0,168.3 288.4,168.7 288.8,169.2 289.2,169.6 289.6,170.1 290.0,170.5 290.4,171.0 290.8,171.4 291.2,171.9 291.6,172.3 292.0,172.8 292.4,173.2 292.8,173.7 293.2,174.1 293.6,174.6 294.1,175.0 294.5,175.4 294.9,175.9 295.3,176.3 295.7,176.7 296.1,177.1 296.6,177.6 297.0,178.0 297.4,178.4 297.8,178.8 298.3,179.2 298.7,179.7 299.1,180.1 299.6,180.5 300.0,180.9 300.5,181.3 300.9,181.7 301.4,182.1 301.8,182.5 302.3,182.9 302.8,183.3 303.2,183.7 303.7,184.1 304.1,184.5 304.6,184.9 305.1,185.3 305.5,185.7 306.0,186.1 306.2,186.2M314.3,192.7 314.8,193.0 315.3,193.4 315.8,193.8 316.3,194.1 316.8,194.5 317.3,194.9 317.7,195.2 318.2,195.6 318.7,195.9 319.2,196.3 319.7,196.6 320.1,197.0 320.6,197.4 321.1,197.7 321.6,198.1 322.1,198.4 322.5,198.8 323.0,199.1 323.5,199.5 324.0,199.8 324.4,200.2 324.9,200.5 325.4,200.9 325.8,201.2 326.3,201.5 326.7,201.9 327.2,202.3 327.7,202.6 328.3,203.0 328.8,203.4 329.3,203.8 329.8,204.2 330.3,204.6 330.8,204.9 331.3,205.3 331.8,205.7 332.3,206.1 332.8,206.5 333.3,206.9 333.8,207.3 334.3,207.7 334.8,208.0 335.0,208.2M343.1,214.2 343.6,214.6 344.1,214.9 344.6,215.3 345.1,215.6 345.6,215.9 346.0,216.3 346.5,216.6 347.0,216.9 347.5,217.2 348.0,217.5 348.5,217.8 349.0,218.1 349.5,218.4 350.0,218.7 350.5,219.0 350.9,219.3 351.4,219.6 351.9,219.8 352.4,220.1 352.9,220.4 353.4,220.6 353.9,220.9 354.4,221.1 354.8,221.3 355.4,221.6 356.0,221.8 356.6,222.1 357.2,222.3 357.8,222.6 358.4,222.8 359.0,223.0 359.6,223.1 360.1,223.3 360.7,223.5 361.3,223.7 361.9,223.8 362.5,223.9 363.1,224.1 363.7,224.2 363.8,224.2M372.0,225.5 372.6,225.6 373.1,225.7 373.7,225.8 374.3,225.9 374.9,226.0 375.5,226.1 376.1,226.2 376.7,226.3 377.3,226.4 377.9,226.5 378.5,226.6 379.1,226.7 379.7,226.8 380.3,227.0 380.9,227.1 381.5,227.3 382.1,227.5 382.6,227.6 383.2,227.8 383.7,227.9 384.3,228.1 384.9,228.2 385.4,228.4 386.0,228.6 386.6,228.7 387.1,228.9 387.7,229.1 388.3,229.2 388.8,229.4 389.4,229.6 390.0,229.8 390.6,230.0 391.1,230.1 391.7,230.3 392.3,230.5 392.7,230.6M400.8,233.3 401.4,233.5 401.9,233.7 402.5,233.8 403.1,234.0 403.7,234.2 404.2,234.4 404.8,234.6 405.4,234.8 406.0,235.0 406.5,235.2 407.1,235.4 407.7,235.6 408.3,235.7 408.8,235.9 409.4,236.1 410.0,236.3 410.5,236.5 411.1,236.7 411.7,236.9 412.3,237.0 412.8,237.2 413.4,237.4 414.0,237.6 414.6,237.8 415.1,238.0 415.7,238.2 416.3,238.4 416.9,238.6 417.4,238.8 418.0,239.0 418.6,239.2 419.1,239.4 419.7,239.6 420.3,239.8 420.8,240.0 421.4,240.2 421.6,240.3M429.7,243.1 430.3,243.2 430.9,243.4 431.4,243.6 432.0,243.8 432.6,243.9 433.2,244.1 433.7,244.3 434.3,244.5 434.9,244.6 435.5,244.8 436.1,244.9 436.7,245.1 437.2,245.3 437.8,245.4 438.4,245.6 439.0,245.7 439.6,245.8 440.2,246.0 440.8,246.1 441.4,246.2 442.0,246.4 442.6,246.5 443.2,246.6 443.9,246.8 444.5,246.9 445.1,247.0 445.8,247.1 446.4,247.3 447.1,247.4 447.7,247.5 448.4,247.6 449.1,247.7 449.7,247.8 450.4,247.9M458.6,249.2 459.2,249.3 459.8,249.4 460.4,249.4 461.0,249.5 461.6,249.6 462.1,249.7 462.7,249.8 463.3,249.8 463.8,249.9 464.4,250.0 464.9,250.0 465.4,250.1 465.9,250.2 466.4,250.2 466.9,250.3 467.3,250.3 467.8,250.4 468.2,250.4 468.7,250.5 469.5,250.6 470.5,250.7 471.4,250.8 472.1,251.0 472.8,251.1 473.4,251.2 474.0,251.2 474.5,251.3 474.9,251.4 475.4,251.4 475.8,251.4 476.2,251.4 476.7,251.3 477.2,251.3 477.7,251.2 478.2,251.0 478.8,250.9 479.3,250.7M487.3,247.5 487.8,247.2 488.3,246.9 488.9,246.6 489.4,246.3 489.9,246.0 490.5,245.7 491.1,245.4 491.6,245.0 492.2,244.7 492.8,244.3 493.4,243.9 494.0,243.5 494.6,243.1 495.3,242.7 495.9,242.3 496.6,241.8 497.3,241.4 497.8,241.0 498.1,240.7 498.5,240.5 498.9,240.2 499.4,239.9 499.8,239.6 500.2,239.3 500.6,239.0 501.0,238.7 501.5,238.4 501.9,238.0 502.3,237.7 502.8,237.4 503.2,237.0 503.7,236.7 504.1,236.4 504.6,236.0 505.1,235.7 505.5,235.3 506.0,235.0 506.5,234.6 507.0,234.2 507.4,233.9 507.9,233.5 508.1,233.4M516.1,226.8 516.6,226.4 517.1,226.0 517.6,225.6 518.1,225.2 518.6,224.7 519.1,224.3 519.6,223.9 520.1,223.5 520.6,223.0 521.1,222.6 521.6,222.2 522.0,221.8 522.5,221.3 523.0,220.9 523.5,220.5 524.0,220.0 524.4,219.6 524.9,219.2 525.3,218.8 525.8,218.4 526.2,218.0 526.6,217.6 527.0,217.2 527.4,216.8 527.9,216.4 528.3,216.0 528.7,215.5 529.1,215.1 529.5,214.7 529.9,214.3 530.4,213.8 530.8,213.4 531.2,213.0 531.6,212.6 532.0,212.1 532.4,211.7 532.8,211.2 533.3,210.8 533.7,210.4 534.1,209.9 534.5,209.5 534.9,209.0 535.3,208.6 535.7,208.1 536.2,207.7 536.4,207.4M543.9,199.2 544.3,198.8 544.7,198.3 545.1,197.9 545.5,197.4 545.9,197.0 546.4,196.5 546.8,196.1 547.2,195.7 547.6,195.2 548.0,194.8 548.4,194.4 548.9,193.9 549.3,193.5 549.7,193.1 550.1,192.7 550.5,192.2 550.9,191.8 551.4,191.4 551.8,191.0 552.2,190.6 552.6,190.2 553.1,189.7 553.5,189.3 554.0,188.9 554.4,188.4 554.9,188.0 555.3,187.5 555.8,187.1 556.2,186.6 556.7,186.2 557.1,185.8 557.6,185.3 558.0,184.9 558.5,184.4 558.9,184.0 559.4,183.5 559.8,183.1 560.3,182.6 560.7,182.2 561.2,181.7 561.6,181.3 562.1,180.8 562.5,180.4 563.0,180.0 563.4,179.5 563.9,179.1 564.3,178.6M572.5,171.4 573.0,171.0 573.4,170.6 573.9,170.3 574.3,169.9 574.8,169.6 575.2,169.3 575.7,168.9 576.1,168.6 576.6,168.3 577.1,168.0 577.5,167.7 578.0,167.4 578.4,167.1 578.9,166.8 579.3,166.6 579.8,166.3 580.4,166.0 580.9,165.7 581.5,165.4 582.1,165.0 582.7,164.8 583.2,164.5 583.8,164.2 584.4,163.9 584.9,163.6 585.5,163.4 586.1,163.1 586.6,162.9 587.2,162.6 587.7,162.4 588.3,162.2 588.9,161.9 589.4,161.7 590.0,161.5 590.6,161.3 591.1,161.1 591.7,160.9 592.3,160.8 592.8,160.6 593.2,160.5M601.4,159.0 602.0,158.9 602.6,158.9 603.2,158.9 603.8,158.8 604.4,158.8 605.0,158.8 605.6,158.8 606.2,158.8 606.8,158.8 607.5,158.9 608.1,158.9 608.6,158.9 609.2,159.0 609.7,159.1 610.2,159.1 610.8,159.2 611.3,159.3 611.9,159.4 612.4,159.5 613.0,159.6 613.6,159.8 614.1,159.9 614.7,160.1 615.2,160.2 615.8,160.4 616.4,160.6 616.9,160.8 617.5,161.0 618.1,161.1 618.7,161.4 619.2,161.6 619.8,161.8 620.4,162.0 621.0,162.2 621.6,162.4 622.0,162.6M630.2,166.0 630.7,166.2 631.3,166.5 631.9,166.7 632.5,167.0 633.1,167.2 633.6,167.4 634.2,167.6 634.8,167.9 635.4,168.1 636.0,168.3 636.5,168.5 637.1,168.7 637.7,168.9 638.2,169.1 638.8,169.3 639.3,169.5 639.9,169.6 640.5,169.8 641.0,170.0 641.6,170.1 642.2,170.3 642.8,170.4 643.4,170.6 644.1,170.7 644.7,170.9 645.3,171.0 645.9,171.2 646.5,171.3 647.1,171.5 647.7,171.6 648.3,171.8 648.9,171.9 649.5,172.1 650.1,172.2 650.8,172.3 651.0,172.4M658.9,174.0 659.5,174.1 660.1,174.2 660.7,174.3 661.3,174.4 661.9,174.5 662.5,174.6 663.0,174.7 663.6,174.8 664.2,174.9 664.8,175.0 665.4,175.0 665.9,175.1 666.5,175.2 667.1,175.3 667.7,175.4 668.2,175.5 668.8,175.6 669.4,175.6 669.9,175.7 670.5,175.8 671.1,175.9 671.6,176.0 672.2,176.0 672.8,176.1 673.5,176.2 674.1,176.3 674.7,176.3 675.4,176.4 676.0,176.4 676.6,176.5 677.2,176.5 677.8,176.6 678.4,176.6 679.0,176.7 679.6,176.7 679.8,176.7M687.7,177.0 688.3,177.0 688.9,177.0 689.5,177.0 690.1,177.1 690.7,177.1 691.3,177.1 691.9,177.1 692.5,177.2 693.1,177.2 693.7,177.2 694.3,177.2 694.9,177.3 695.5,177.3 696.1,177.4 696.7,177.4 697.3,177.5 697.9,177.5 698.5,177.6 699.1,177.7 699.7,177.7 700.3,177.8 700.9,177.9 701.4,177.9 702.0,178.0 702.6,178.1 703.2,178.1 703.8,178.2 704.4,178.3 705.0,178.4 705.6,178.5 706.1,178.5 706.7,178.6 707.3,178.7 707.9,178.8 708.5,178.9M716.7,180.2 717.3,180.3 717.9,180.4 718.5,180.5 719.1,180.6 719.7,180.7 720.3,180.8 720.9,180.9 721.5,181.0 722.0,181.2 722.6,181.3 723.2,181.4 723.8,181.5 724.4,181.7 725.0,181.8 725.6,181.9 726.2,182.0 726.8,182.2 727.4,182.3 728.0,182.5 728.6,182.6 729.2,182.7 729.7,182.9 730.3,183.0 730.9,183.2 731.5,183.3 732.0,183.5 732.6,183.6 733.2,183.8 733.8,184.0 734.3,184.1 734.9,184.3 735.5,184.5 736.1,184.6 736.7,184.8 737.2,185.0 737.4,185.1M745.5,187.7 746.1,187.8 746.6,188.0 747.2,188.2 747.8,188.4 748.4,188.6 748.9,188.8 749.5,189.0 750.1,189.1 750.7,189.3 751.2,189.5 751.8,189.7 752.4,189.8 753.0,190.0 753.5,190.2 754.1,190.4 754.7,190.5 755.3,190.7 755.8,190.8 756.4,191.0 757.0,191.2 757.6,191.3 758.2,191.5 758.8,191.6 759.4,191.8 759.9,191.9 760.5,192.1 761.1,192.2 761.7,192.4 762.3,192.5 762.9,192.7 763.5,192.8 764.1,193.0 764.7,193.1 765.3,193.3 765.9,193.4 766.3,193.5M774.4,195.4 775.0,195.5 775.6,195.7 776.1,195.8 776.7,195.9 777.3,196.0 777.9,196.2 778.5,196.3 779.1,196.4 779.6,196.5 780.2,196.7 780.8,196.8 781.4,196.9 782.0,197.0 782.5,197.1 783.1,197.2 783.7,197.4 784.3,197.5 784.8,197.6 785.4,197.7 786.0,197.8 786.6,197.9 787.2,198.0 787.8,198.2 788.4,198.3 789.0,198.4 789.6,198.5 790.2,198.6 790.8,198.7 791.4,198.8 792.0,198.9 792.6,199.0 793.1,199.0 793.7,199.1 794.3,199.2 794.9,199.3 795.1,199.3M803.2,200.5 803.8,200.6 804.4,200.7 804.9,200.8 805.5,200.9 806.1,200.9 806.7,201.0 807.3,201.1 808.0,201.2 808.6,201.3 809.2,201.4 809.8,201.5 810.4,201.6 811.0,201.7 811.7,201.8 812.3,201.9 812.8,202.0 813.4,202.1 814.0,202.2 814.5,202.3 815.1,202.4 815.7,202.5 816.3,202.6 816.8,202.7 817.4,202.8 818.0,202.9 818.6,203.0 819.2,203.1 819.8,203.2 820.3,203.3 820.9,203.4 821.5,203.5 822.1,203.6 822.7,203.7 823.3,203.8 823.9,203.9M832.2,205.4 832.8,205.5 833.4,205.7 834.0,205.8 834.6,205.9 835.2,206.0 835.8,206.1 836.4,206.2 837.0,206.3 837.6,206.5 838.2,206.6 838.8,206.7 839.4,206.8 840.0,206.9 840.6,207.1 841.1,207.2 841.7,207.3 842.3,207.4 842.9,207.5 843.5,207.7 844.1,207.8 844.7,207.9 845.3,208.0 845.9,208.2 846.5,208.3 847.1,208.4 847.7,208.5 848.2,208.6 848.8,208.8 849.4,208.9 850.0,209.0 850.6,209.1 851.2,209.2 851.8,209.4 852.3,209.5 852.9,209.6M860.9,211.4 861.5,211.5 862.0,211.6 862.6,211.8 863.2,211.9 863.8,212.1 864.4,212.2 864.9,212.4 865.5,212.5 866.1,212.7 866.7,212.9 867.3,213.0 867.9,213.2 868.5,213.4 869.0,213.6 869.6,213.7 870.2,213.9 870.8,214.1 871.4,214.3 872.0,214.5 872.5,214.7 873.1,214.9 873.7,215.1 874.2,215.3 874.8,215.5 875.4,215.7 875.9,215.9 876.5,216.2 877.1,216.4 877.7,216.6 878.3,216.9 878.9,217.1 879.5,217.4 880.1,217.6 880.7,217.9 881.3,218.2 881.7,218.3M889.8,222.0 890.4,222.3 891.0,222.6 891.5,222.8 892.1,223.1 892.7,223.3 893.2,223.6 893.8,223.8 894.3,224.1 894.9,224.3 895.4,224.6 895.9,224.8 896.4,225.0 896.9,225.3 897.4,225.5 897.9,225.7 898.4,225.9 898.9,226.1 899.4,226.3 899.8,226.5 900.3,226.7 900.7,226.8 901.2,227.0 901.6,227.2 902.0,227.3 902.9,227.6 903.7,227.9 904.5,228.2 905.3,228.4 906.0,228.7 906.7,228.9 907.3,229.1 907.9,229.2 908.5,229.4 909.0,229.5 909.5,229.6 910.0,229.7 910.5,229.8M918.6,229.9 919.1,229.8 919.6,229.8 920.2,229.7 920.7,229.7 921.2,229.6 921.8,229.5 922.3,229.4 922.9,229.3 923.4,229.1 924.0,229.0 924.5,228.8 925.1,228.6 925.7,228.4 926.3,228.2 926.9,227.9 927.6,227.6 928.2,227.3 928.9,226.9 929.5,226.5 930.2,226.1 930.8,225.7 931.2,225.5 931.6,225.2 932.0,224.9 932.4,224.6 932.9,224.3 933.3,223.9 933.7,223.6 934.2,223.2 934.7,222.9 935.1,222.5 935.6,222.1 936.1,221.7 936.6,221.3 937.1,220.9 937.6,220.5 938.0,220.0 938.5,219.6 939.0,219.1 939.4,218.8M947.5,211.2 948.0,210.8 948.4,210.4 948.9,210.0 949.3,209.6 949.7,209.2 950.1,208.8 950.5,208.4 950.8,208.0 951.2,207.7 951.5,207.3 951.9,207.0 952.2,206.7 952.6,206.3 953.3,205.6 954.0,204.9 954.6,204.2 955.1,203.6 955.6,203.0 956.1,202.4 956.5,201.9 957.0,201.4 957.3,200.9 957.7,200.4 958.0,199.9 958.3,199.5 958.6,199.1 958.8,198.7 959.0,198.4 959.3,198.0 959.5,197.7 959.7,197.4 959.9,197.2 960.0,197.0" class="c"/>
</g><g clip-path="url(#c2)">
<path d="M95.0,594.4 C96.0,595.5 98.3,598.3 100.7,601.2 C103.1,604.1 106.6,608.2 109.3,611.7 C112.0,615.2 114.6,618.9 117.0,622.2 C119.4,625.6 121.5,628.6 123.7,631.8 C125.9,635.0 128.1,638.4 130.3,641.4 C132.5,644.4 134.6,647.5 137.0,650.0 C139.4,652.5 142.3,654.9 144.7,656.6 C147.1,658.4 149.2,660.3 151.4,660.5 C153.6,660.7 155.5,659.1 158.0,657.6 C160.5,656.1 163.0,654.5 166.2,651.5 C169.4,648.5 173.4,643.1 177.0,639.3 C180.6,635.5 184.3,632.2 187.7,628.6 C191.1,625.0 194.0,621.4 197.2,617.8 C200.3,614.2 203.5,610.6 206.6,607.0 C209.7,603.4 212.6,599.6 216.0,596.2 C219.4,592.8 223.2,589.9 226.8,586.8 C230.4,583.6 234.0,580.2 237.6,577.3 C241.2,574.4 243.2,572.6 248.4,569.3 C253.6,566.0 262.4,560.8 269.0,557.3 C275.6,553.8 281.8,550.9 288.1,548.3 C294.5,545.6 300.8,543.6 307.1,541.4 C313.5,539.1 320.7,536.8 326.2,534.8 C331.7,532.8 334.5,531.2 340.0,529.5 C345.5,527.8 352.6,526.3 359.0,524.5 C365.4,522.7 371.8,520.4 378.1,518.6 C384.5,516.8 390.8,515.6 397.1,513.8 C403.5,512.0 410.7,509.4 416.2,507.6 C421.7,505.8 426.1,504.2 430.0,503.1 C433.9,502.0 436.3,501.8 439.5,501.0 C442.7,500.2 445.8,499.3 449.0,498.6 C452.2,497.9 454.6,497.3 458.6,496.9 C462.6,496.4 468.1,496.0 472.9,495.9 C477.6,495.8 482.4,495.9 487.1,496.4 C491.9,496.9 497.4,498.1 501.4,499.0 C505.4,499.9 507.8,500.7 511.0,502.1 C514.2,503.5 517.5,505.7 520.5,507.6 C523.5,509.6 525.8,511.0 529.0,513.8 C532.2,516.6 536.4,520.7 539.8,524.3 C543.2,527.9 546.3,531.4 549.2,535.3 C552.1,539.2 554.5,543.4 557.1,547.9 C559.7,552.4 562.3,557.1 564.9,562.1 C567.5,567.1 570.2,572.4 572.8,577.8 C575.4,583.2 578.2,589.0 580.7,594.5 C583.2,600.0 585.5,605.4 587.5,611.0 C589.5,616.6 591.0,622.0 593.0,628.0 C595.0,634.0 597.5,640.4 599.7,647.0 C601.9,653.6 604.2,660.8 606.4,667.5 C608.6,674.2 610.9,681.1 613.1,687.4 C615.4,693.7 617.9,700.0 619.9,705.4 C621.9,710.8 623.0,714.2 625.0,719.5 C627.0,724.8 630.2,732.1 632.2,737.1 C634.2,742.1 635.0,745.1 636.7,749.4 C638.4,753.7 640.5,759.1 642.4,762.9 C644.3,766.6 645.8,769.3 648.0,771.9 C650.2,774.5 653.0,776.7 655.8,778.7 C658.6,780.7 661.6,783.8 664.8,783.7 C667.9,783.7 671.2,781.6 674.7,778.4 C678.2,775.1 682.6,768.4 685.7,764.2 C688.9,760.0 691.0,757.7 693.6,753.2 C696.2,748.8 699.0,742.7 701.4,737.5 C703.8,732.3 705.3,727.6 707.7,721.8 C710.1,716.0 713.2,708.4 715.6,702.9 C718.0,697.4 719.5,693.7 721.9,688.7 C724.2,683.7 727.3,677.8 729.7,673.0 C732.1,668.2 733.9,665.0 736.4,660.0 C738.9,655.0 742.2,647.7 744.5,643.2 C746.8,638.8 748.1,636.8 749.9,633.3 C751.7,629.8 753.2,626.1 755.3,622.5 C757.4,618.9 760.0,615.3 762.5,611.7 C765.0,608.1 767.8,604.6 770.6,601.0 C773.5,597.4 776.8,593.4 779.6,590.2 C782.4,587.1 784.9,584.5 787.6,582.1 C790.3,579.7 792.9,577.4 795.7,575.8 C798.6,574.1 801.2,573.0 804.7,572.2 C808.2,571.5 812.1,570.8 816.4,571.3 C820.7,571.8 825.6,573.3 830.5,575.2 C835.4,577.1 840.6,580.4 845.7,582.9 C850.8,585.4 855.9,588.6 861.0,590.5 C866.1,592.4 872.2,593.5 876.2,594.3 C880.2,595.0 881.5,595.2 885.3,595.0 C889.1,594.8 894.2,593.5 899.0,592.8 C903.8,592.0 910.0,591.3 914.3,590.5 C918.6,589.7 921.2,588.2 925.0,588.2 C928.8,588.2 932.5,588.6 937.1,590.5 C941.7,592.4 948.2,597.1 952.4,599.6 C956.5,602.1 960.4,604.5 962.0,605.5" class="c"/>
<path d="M106.8,588.5 107.1,588.5 107.6,588.5 108.0,588.5 108.6,588.5 109.2,588.5 109.8,588.5 110.5,588.5 111.2,588.5 111.9,588.5 112.6,588.5 113.3,588.5 114.0,588.5 114.7,588.5 115.3,588.5 115.9,588.5 116.5,588.5 117.0,588.5 117.8,588.5 118.5,588.4 119.1,588.4 119.8,588.4 120.3,588.4 120.9,588.3 121.4,588.2 121.9,588.2 122.5,588.1 123.0,588.0 123.6,587.9 124.1,587.7 124.7,587.5 125.2,587.3 125.7,587.1 126.2,586.9 126.8,586.7 127.5,586.5M135.5,585.5 136.2,585.5 136.8,585.5 137.4,585.5 138.0,585.5 138.5,585.6 139.1,585.6 139.7,585.6 140.3,585.7 140.9,585.8 141.5,585.8 142.1,585.9 142.7,586.0 143.4,586.1 144.0,586.2 144.6,586.3 145.2,586.4 145.8,586.5 146.4,586.6 147.0,586.7 147.5,586.8 148.1,586.9 148.7,587.0 149.2,587.1 149.8,587.2 150.4,587.4 150.9,587.5 151.5,587.7 152.1,587.8 152.7,588.0 153.3,588.2 153.9,588.3 154.5,588.5 155.1,588.8 155.7,589.0 156.2,589.2 156.5,589.3M164.6,593.5 165.2,593.8 165.9,594.2 166.6,594.5 167.2,594.7 167.7,594.9 168.1,595.1 168.6,595.3 169.1,595.5 169.7,595.7 170.2,596.0 170.8,596.2 171.3,596.4 171.9,596.6 172.5,596.8 173.1,597.1 173.7,597.3 174.3,597.5 174.9,597.8 175.5,598.0 176.2,598.2 176.8,598.5 177.4,598.7 178.0,598.9 178.7,599.2 179.3,599.4 179.9,599.6 180.5,599.9 181.1,600.1 181.7,600.3 182.3,600.6 182.8,600.8 183.4,601.0 184.0,601.2 184.5,601.4 185.0,601.6 185.5,601.8M193.6,605.6 194.0,605.8 194.5,606.1 195.0,606.3 195.4,606.6 195.9,606.8 196.5,607.1 197.0,607.4 197.6,607.7 198.2,608.0 198.7,608.3 199.2,608.5 199.7,608.7 200.2,609.0 200.7,609.3 201.3,609.5 201.8,609.8 202.4,610.1 202.9,610.4 203.5,610.6 204.0,610.9 204.6,611.2 205.2,611.5 205.8,611.8 206.4,612.1 206.9,612.4 207.5,612.7 208.1,613.0 208.7,613.3 209.2,613.5 209.8,613.8 210.3,614.1 210.9,614.4 211.4,614.7 212.0,614.9 212.5,615.2 213.0,615.4 213.5,615.7 213.9,615.9 214.5,616.2M222.6,620.3 223.2,620.6 223.8,620.9 224.4,621.2 225.1,621.5 225.6,621.7 226.1,621.9 226.6,622.2 227.1,622.4 227.6,622.6 228.1,622.8 228.6,623.0 229.2,623.3 229.8,623.5 230.3,623.7 230.9,624.0 231.5,624.2 232.1,624.5 232.7,624.7 233.3,624.9 233.9,625.2 234.5,625.4 235.1,625.7 235.7,625.9 236.3,626.2 236.9,626.4 237.5,626.7 238.1,626.9 238.6,627.2 239.2,627.4 239.8,627.7 240.3,627.9 240.8,628.2 241.4,628.4 241.9,628.7 242.4,628.9 242.8,629.2 243.3,629.4M251.5,635.3 252.0,635.7 252.5,636.0 253.0,636.4 253.6,636.7 254.2,637.1 254.8,637.4 255.2,637.6 255.7,637.9 256.2,638.1 256.7,638.4 257.2,638.6 257.8,638.9 258.3,639.1 258.9,639.4 259.5,639.6 260.1,639.9 260.6,640.1 261.2,640.4 261.8,640.6 262.4,640.9 263.0,641.1 263.7,641.4 264.3,641.6 264.9,641.9 265.5,642.1 266.1,642.4 266.6,642.6 267.2,642.8 267.8,643.1 268.4,643.3 268.9,643.6 269.5,643.8 270.0,644.0 270.6,644.3 271.1,644.5 271.6,644.7 272.0,645.0 272.3,645.1M280.4,649.9 280.9,650.2 281.4,650.5 281.9,650.8 282.5,651.1 283.0,651.5 283.6,651.8 284.1,652.1 284.6,652.3 285.1,652.6 285.6,652.9 286.1,653.1 286.7,653.4 287.2,653.7 287.7,654.0 288.3,654.2 288.8,654.5 289.4,654.8 289.9,655.1 290.5,655.4 291.1,655.7 291.6,656.0 292.2,656.2 292.8,656.5 293.3,656.8 293.9,657.1 294.5,657.3 295.0,657.6 295.6,657.9 296.2,658.2 296.7,658.4 297.2,658.7 297.8,658.9 298.3,659.2 298.8,659.4 299.4,659.7 300.0,659.9 300.5,660.2 301.1,660.4 301.3,660.5M309.3,663.8 309.9,664.1 310.4,664.3 311.0,664.6 311.7,664.8 312.3,665.1 312.8,665.3 313.3,665.6 313.8,665.8 314.4,666.0 314.9,666.2 315.5,666.5 316.0,666.7 316.6,667.0 317.2,667.2 317.7,667.5 318.3,667.7 318.9,668.0 319.5,668.2 320.1,668.5 320.7,668.7 321.3,669.0 321.9,669.2 322.5,669.5 323.1,669.8 323.7,670.0 324.2,670.3 324.8,670.5 325.4,670.8 326.0,671.0 326.5,671.3 327.1,671.5 327.6,671.7 328.1,672.0 328.6,672.2 329.1,672.4 329.6,672.7 330.1,672.9 330.2,672.9M338.3,676.9 338.8,677.1 339.4,677.4 340.0,677.7 340.6,677.9 341.2,678.2 341.9,678.5 342.3,678.7 342.8,678.9 343.3,679.1 343.9,679.3 344.4,679.5 344.9,679.7 345.5,679.9 346.1,680.1 346.7,680.4 347.3,680.6 347.9,680.8 348.5,681.0 349.1,681.3 349.7,681.5 350.3,681.7 350.9,681.9 351.5,682.2 352.1,682.4 352.7,682.6 353.4,682.8 354.0,683.1 354.5,683.3 355.1,683.5 355.7,683.7 356.3,683.9 356.8,684.1 357.4,684.3 357.9,684.5 358.4,684.7 358.9,684.9 359.2,685.0M367.3,688.3 367.8,688.6 368.3,688.8 368.9,689.0 369.5,689.2 370.2,689.5 370.9,689.7 371.4,689.9 371.9,690.0 372.4,690.2 372.9,690.4 373.5,690.6 374.0,690.7 374.6,690.9 375.2,691.1 375.8,691.3 376.4,691.5 377.0,691.7 377.6,691.9 378.2,692.1 378.9,692.2 379.5,692.4 380.1,692.6 380.7,692.8 381.4,693.0 382.0,693.2 382.6,693.4 383.2,693.6 383.8,693.8 384.4,693.9 385.0,694.1 385.6,694.3 386.2,694.5 386.7,694.6 387.2,694.8 387.8,695.0 388.1,695.1M396.2,697.4 396.7,697.6 397.3,697.8 397.9,697.9 398.5,698.1 399.1,698.4 399.9,698.6 400.4,698.8 400.9,699.0 401.4,699.1 401.9,699.3 402.4,699.5 403.0,699.7 403.5,699.9 404.1,700.1 404.7,700.3 405.3,700.6 405.8,700.8 406.4,701.0 407.1,701.2 407.7,701.4 408.3,701.7 408.9,701.9 409.5,702.1 410.1,702.4 410.7,702.6 411.3,702.8 412.0,703.1 412.6,703.3 413.1,703.5 413.7,703.7 414.3,703.9 414.9,704.2 415.4,704.4 416.0,704.6 416.5,704.8 417.0,705.0 417.1,705.0M425.1,708.2 425.7,708.4 426.2,708.6 426.7,708.8 427.3,709.1 427.9,709.3 428.6,709.6 429.3,709.9 429.8,710.1 430.2,710.3 430.7,710.5 431.2,710.7 431.7,710.9 432.3,711.2 432.8,711.4 433.4,711.6 434.0,711.9 434.5,712.1 435.1,712.4 435.7,712.7 436.3,712.9 436.9,713.2 437.5,713.4 438.1,713.7 438.7,714.0 439.3,714.2 439.9,714.5 440.5,714.7 441.1,715.0 441.7,715.3 442.3,715.5 442.8,715.8 443.4,716.0 444.0,716.3 444.5,716.5 445.0,716.8 445.5,717.0 446.0,717.2M454.1,721.3 454.6,721.6 455.1,721.8 455.6,722.1 456.2,722.4 456.8,722.6 457.4,722.9 458.0,723.2 458.7,723.5 459.1,723.7 459.6,723.9 460.1,724.1 460.6,724.3 461.2,724.5 461.7,724.7 462.3,724.9 462.9,725.1 463.5,725.4 464.0,725.6 464.6,725.8 465.2,726.1 465.9,726.3 466.5,726.5 467.1,726.7 467.7,727.0 468.3,727.2 468.9,727.4 469.5,727.6 470.1,727.9 470.7,728.1 471.3,728.3 471.9,728.5 472.5,728.7 473.1,728.9 473.6,729.1 474.2,729.3 474.7,729.5 475.0,729.6M483.1,732.4 483.6,732.5 484.1,732.7 484.6,732.8 485.2,733.0 485.7,733.1 486.3,733.2 486.9,733.3 487.6,733.5 488.2,733.6 488.7,733.6 489.3,733.7 489.8,733.8 490.4,733.9 491.0,733.9 491.6,734.0 492.2,734.0 492.9,734.1 493.5,734.1 494.1,734.2 494.8,734.2 495.4,734.3 496.0,734.3 496.7,734.3 497.3,734.4 497.9,734.4 498.6,734.4 499.2,734.4 499.8,734.5 500.4,734.5 501.0,734.5 501.5,734.5 502.1,734.6 502.6,734.6 503.2,734.6 503.9,734.6M512.1,734.9 512.7,734.8 513.4,734.7 514.2,734.6 514.7,734.5 515.2,734.4 515.7,734.3 516.2,734.2 516.8,734.1 517.3,733.9 517.9,733.8 518.5,733.7 519.1,733.5 519.7,733.4 520.3,733.2 520.9,733.1 521.5,732.9 522.2,732.7 522.8,732.6 523.4,732.4 524.0,732.2 524.7,732.0 525.3,731.8 525.9,731.6 526.5,731.4 527.1,731.2 527.7,731.0 528.3,730.7 528.9,730.5 529.5,730.3 530.0,730.1 530.5,729.8 531.1,729.6 531.6,729.3 532.0,729.1 532.6,728.8 533.0,728.6M540.8,721.7 541.2,721.3 541.6,720.8 542.0,720.4 542.4,720.0 542.8,719.6 543.1,719.2 543.5,718.7 544.0,718.3 544.4,717.9 544.7,717.5 545.1,717.1 545.4,716.8 545.7,716.4 546.0,716.1 546.3,715.7 546.6,715.4 546.9,715.0 547.2,714.6 547.5,714.2 547.8,713.8 548.2,713.3 548.5,712.8 548.9,712.3 549.3,711.7 549.7,711.1 550.2,710.4 550.7,709.6 551.3,708.8 551.5,708.4 551.8,708.1 552.0,707.7 552.3,707.3 552.6,706.9 552.9,706.5 553.1,706.1 553.4,705.7 553.7,705.2 554.0,704.8 554.3,704.3 554.6,703.9 554.9,703.4 555.3,702.9 555.6,702.4 555.9,701.9 556.2,701.4 556.6,700.9 556.7,700.8M561.9,692.7 562.3,692.1 562.6,691.6 563.0,691.0 563.3,690.4 563.7,689.9 564.0,689.3 564.4,688.8 564.7,688.2 565.1,687.6 565.4,687.1 565.7,686.5 566.1,686.0 566.4,685.4 566.7,684.9 567.1,684.4 567.4,683.8 567.7,683.3 568.0,682.8 568.3,682.2 568.6,681.7 568.9,681.2 569.2,680.7 569.5,680.1 569.8,679.6 570.1,679.1 570.4,678.6 570.6,678.0 570.9,677.5 571.2,677.0 571.5,676.5 571.8,675.9 572.1,675.4 572.3,674.9 572.6,674.3 572.9,673.8 573.2,673.3 573.5,672.7 573.7,672.2 573.9,671.8M578.0,663.8 578.3,663.2 578.5,662.7 578.8,662.1 579.1,661.6 579.3,661.1 579.6,660.5 579.9,660.0 580.2,659.5 580.4,658.9 580.7,658.4 581.0,657.8 581.2,657.3 581.5,656.8 581.8,656.2 582.1,655.7 582.3,655.2 582.6,654.7 582.9,654.1 583.2,653.6 583.4,653.0 583.7,652.5 584.0,652.0 584.3,651.4 584.5,650.9 584.8,650.4 585.1,649.8 585.3,649.3 585.6,648.7 585.8,648.2 586.1,647.7 586.4,647.1 586.6,646.6 586.9,646.0 587.1,645.5 587.4,644.9 587.6,644.4 587.9,643.9 588.1,643.3 588.3,643.0M592.4,634.8 592.7,634.2 593.0,633.7 593.3,633.2 593.6,632.7 593.9,632.2 594.2,631.6 594.5,631.1 594.8,630.6 595.1,630.1 595.5,629.6 595.8,629.1 596.1,628.6 596.5,628.0 596.8,627.5 597.2,627.0 597.5,626.5 597.9,626.1 598.2,625.6 598.6,625.1 598.9,624.6 599.3,624.1 599.7,623.6 600.1,623.1 600.5,622.7 600.9,622.2 601.3,621.7 601.7,621.2 602.2,620.7 602.6,620.2 603.0,619.7 603.5,619.2 603.9,618.7 604.3,618.2 604.8,617.7 605.2,617.2 605.7,616.7 606.1,616.2 606.6,615.7 607.0,615.2 607.5,614.7 608.0,614.2 608.3,613.9M616.2,605.8 616.6,605.5 616.9,605.1 617.3,604.7 617.7,604.4 618.0,604.0 618.3,603.7 618.7,603.3 619.0,603.0 619.3,602.7 619.6,602.4 620.1,601.9 620.8,601.2 621.5,600.5 622.1,599.9 622.6,599.3 623.1,598.8 623.6,598.3 624.0,597.9 624.4,597.6 624.7,597.3 625.1,597.0 625.4,596.7 625.8,596.4 626.1,596.2 626.5,595.9 626.9,595.7 627.3,595.4 627.7,595.2 628.2,594.9 628.8,594.6 629.3,594.3 629.8,594.1 630.2,593.9 630.7,593.6 631.2,593.4 631.7,593.1 632.2,592.9 632.7,592.7 633.2,592.5 633.7,592.3 634.3,592.1 634.8,591.9 635.4,591.7 635.9,591.5 636.5,591.3 636.9,591.2M644.9,589.8 645.4,589.8 646.0,589.7 646.5,589.7 647.0,589.7 647.5,589.6 648.1,589.6 648.6,589.6 649.2,589.6 649.7,589.6 650.3,589.5 650.8,589.5 651.4,589.5 652.0,589.5 652.6,589.5 653.2,589.5 653.8,589.5 654.4,589.5 655.0,589.5 655.7,589.5 656.3,589.5 657.0,589.5 657.6,589.5 658.3,589.5 659.0,589.5 659.7,589.5 660.4,589.5 661.1,589.5 661.8,589.5 662.5,589.5 663.3,589.5 664.0,589.5 664.8,589.5 665.3,589.5 665.8,589.5M673.9,589.4 674.4,589.4 674.8,589.4 675.2,589.4 675.7,589.4 676.1,589.4 676.6,589.4 677.1,589.4 677.6,589.5 678.1,589.5 678.6,589.5 679.1,589.5 679.6,589.5 680.2,589.5 680.7,589.5 681.3,589.5 681.9,589.5 682.5,589.5 683.1,589.5 683.8,589.5 684.5,589.5 685.1,589.5 685.9,589.5 686.6,589.5 687.3,589.5 688.1,589.5 688.9,589.5 689.8,589.5 690.6,589.5 691.5,589.5 692.4,589.5 693.4,589.5 694.3,589.5 695.0,589.5M703.0,589.5 703.4,589.5 703.8,589.5 704.3,589.5 704.7,589.5 705.2,589.5 705.7,589.5 706.1,589.5 706.6,589.5 707.1,589.5 707.5,589.5 708.0,589.5 708.5,589.5 709.0,589.5 709.5,589.5 710.0,589.5 710.5,589.5 711.0,589.5 711.5,589.5 712.0,589.5 712.5,589.5 713.0,589.5 713.6,589.5 714.1,589.5 714.6,589.5 715.1,589.5 715.7,589.5 716.2,589.5 716.8,589.5 717.3,589.5 717.8,589.5 718.4,589.5 719.0,589.5 719.5,589.5 720.1,589.5 720.6,589.5 721.2,589.5 721.8,589.5 722.3,589.5 722.9,589.5 723.5,589.5 723.7,589.5M731.8,589.6 732.4,589.6 733.1,589.6 733.7,589.6 734.3,589.6 734.9,589.6 735.5,589.6 736.2,589.6 736.8,589.6 737.4,589.6 738.1,589.6 738.7,589.6 739.3,589.6 740.0,589.6 740.6,589.6 741.2,589.6 741.9,589.6 742.5,589.6 743.2,589.6 743.8,589.6 744.4,589.6 745.1,589.6 745.7,589.6 746.4,589.6 747.0,589.6 747.7,589.6 748.3,589.6 749.0,589.6 749.6,589.6 750.3,589.6 751.0,589.6 751.6,589.6 752.3,589.6 752.7,589.6M760.6,589.6 761.3,589.6 762.0,589.6 762.6,589.6 763.3,589.6 764.0,589.6 764.6,589.6 765.3,589.6 766.0,589.6 766.6,589.6 767.3,589.6 768.0,589.6 768.6,589.6 769.3,589.7 770.0,589.7 770.6,589.7 771.3,589.7 771.9,589.7 772.6,589.7 773.3,589.7 773.9,589.7 774.6,589.7 775.2,589.7 775.9,589.7 776.6,589.7 777.2,589.7 777.9,589.7 778.5,589.7 779.2,589.7 779.8,589.7 780.5,589.7 781.1,589.7 781.6,589.7M789.7,589.7 790.3,589.7 791.0,589.7 791.6,589.7 792.2,589.7 792.9,589.7 793.5,589.7 794.1,589.7 794.7,589.7 795.3,589.7 796.0,589.7 796.6,589.7 797.2,589.7 797.8,589.7 798.4,589.7 799.0,589.7 799.6,589.7 800.2,589.7 800.8,589.7 801.4,589.7 802.0,589.7 802.6,589.7 803.2,589.7 803.8,589.7 804.4,589.7 805.0,589.7 805.7,589.7 806.3,589.7 806.9,589.7 807.5,589.7 808.1,589.7 808.7,589.7 809.4,589.7 810.0,589.7 810.6,589.7M818.7,589.7 819.4,589.7 820.0,589.7 820.6,589.7 821.3,589.7 821.9,589.7 822.5,589.7 823.2,589.7 823.8,589.7 824.5,589.7 825.1,589.7 825.7,589.7 826.4,589.7 827.0,589.7 827.6,589.7 828.3,589.7 828.9,589.7 829.6,589.7 830.2,589.7 830.8,589.7 831.5,589.7 832.1,589.7 832.8,589.7 833.4,589.7 834.0,589.7 834.7,589.7 835.3,589.7 836.0,589.7 836.6,589.7 837.2,589.7 837.9,589.7 838.5,589.7 839.2,589.7 839.6,589.7M847.7,589.7 848.3,589.7 848.9,589.7 849.6,589.7 850.2,589.7 850.8,589.7 851.4,589.7 852.1,589.7 852.7,589.7 853.3,589.7 854.0,589.7 854.6,589.7 855.2,589.7 855.8,589.7 856.5,589.7 857.1,589.7 857.7,589.7 858.3,589.7 859.0,589.7 859.6,589.7 860.2,589.7 860.8,589.7 861.4,589.7 862.1,589.7 862.7,589.7 863.3,589.7 863.9,589.7 864.5,589.7 865.1,589.7 865.7,589.7 866.3,589.7 866.9,589.7 867.6,589.7 868.2,589.7 868.6,589.7M876.7,589.7 877.2,589.7 877.8,589.7 878.4,589.7 879.0,589.7 879.5,589.7 880.1,589.7 880.7,589.7 881.2,589.7 881.8,589.7 882.4,589.7 882.9,589.7 883.5,589.7 884.1,589.7 884.6,589.7 885.2,589.7 885.7,589.7 886.3,589.7 886.8,589.7 887.3,589.7 887.9,589.7 888.4,589.7 889.0,589.7 889.5,589.7 890.0,589.7 890.6,589.7 891.1,589.7 891.6,589.7 892.1,589.7 892.7,589.7 893.2,589.7 893.7,589.7 894.2,589.7 894.7,589.7 895.2,589.7 895.7,589.7 896.2,589.7 896.7,589.7 897.2,589.7 897.4,589.7M905.5,589.7 906.3,589.7 907.1,589.7 907.9,589.7 908.7,589.7 909.4,589.7 910.2,589.7 911.0,589.7 911.7,589.7 912.5,589.7 913.3,589.7 914.0,589.7 914.8,589.7 915.5,589.7 916.3,589.7 917.0,589.7 917.7,589.7 918.5,589.7 919.2,589.7 919.9,589.7 920.7,589.7 921.4,589.7 922.1,589.7 922.8,589.7 923.5,589.7 924.2,589.7 925.0,589.7 925.7,589.7 926.3,589.7M934.4,589.7 935.0,589.7 935.6,589.7 936.2,589.7 936.9,589.7 937.5,589.7 938.1,589.7 938.7,589.7 939.3,589.7 939.9,589.7 940.5,589.7 941.1,589.7 941.7,589.7 942.2,589.7 942.8,589.7 943.4,589.7 943.9,589.7 944.5,589.7 945.0,589.7 945.6,589.7 946.1,589.7 946.6,589.7 947.2,589.7 947.7,589.7 948.2,589.7 948.7,589.7 949.2,589.7 949.7,589.7 950.2,589.7 950.6,589.7 951.1,589.7 951.6,589.7 952.0,589.7 952.5,589.7 952.9,589.7 953.4,589.7 953.8,589.7 954.2,589.7 954.6,589.7 955.0,589.7 955.3,589.7" class="c"/>
</g>
<rect x="99.5" y="21" width="856.7" height="331.0" class="ax"/>
<line x1="270.0" y1="352" x2="270.0" y2="339.5" class="tk"/>
<line x1="270.0" y1="21" x2="270.0" y2="30" class="tk"/>
<line x1="441.5" y1="352" x2="441.5" y2="339.5" class="tk"/>
<line x1="441.5" y1="21" x2="441.5" y2="30" class="tk"/>
<line x1="612.9" y1="352" x2="612.9" y2="339.5" class="tk"/>
<line x1="612.9" y1="21" x2="612.9" y2="30" class="tk"/>
<line x1="784.4" y1="352" x2="784.4" y2="339.5" class="tk"/>
<line x1="784.4" y1="21" x2="784.4" y2="30" class="tk"/>
<line x1="99.5" y1="185.4" x2="108.5" y2="185.4" class="tk"/>
<line x1="956.2" y1="185.4" x2="945.2" y2="185.4" class="tk"/>
<rect x="99.5" y="481.2" width="856.7" height="333.0" class="ax"/>
<line x1="270.0" y1="814.2" x2="270.0" y2="804.7" class="tk"/>
<line x1="270.0" y1="481.2" x2="270.0" y2="490.2" class="tk"/>
<line x1="441.5" y1="814.2" x2="441.5" y2="804.7" class="tk"/>
<line x1="441.5" y1="481.2" x2="441.5" y2="490.2" class="tk"/>
<line x1="612.9" y1="814.2" x2="612.9" y2="804.7" class="tk"/>
<line x1="612.9" y1="481.2" x2="612.9" y2="490.2" class="tk"/>
<line x1="784.4" y1="814.2" x2="784.4" y2="804.7" class="tk"/>
<line x1="784.4" y1="481.2" x2="784.4" y2="490.2" class="tk"/>
<line x1="99.5" y1="591.9" x2="108.5" y2="591.9" class="tk"/>
<line x1="99.5" y1="701.9" x2="108.5" y2="701.9" class="tk"/>
<line x1="956.2" y1="591.9" x2="945.2" y2="591.9" class="tk"/>
<line x1="956.2" y1="701.9" x2="945.2" y2="701.9" class="tk"/>
<rect x="684.8" y="21" width="271.4000000000001" height="87.3" class="lg"/>
<rect x="700" y="38.7" width="84.5" height="8"/>
<rect x="708.0" y="78.7" width="20.7" height="8"/>
<rect x="737.1" y="78.7" width="20.7" height="8"/>
<rect x="766.2" y="78.7" width="18.3" height="8"/>
<g id="t0" class="tx" transform="matrix(1.03390,0,0,1.00000,-29.392,0.000)"><text transform="translate(793.40,54.70) scale(0.9170,1)" font-size="28.70" font-weight="normal">Knee Angle</text></g>
<g id="t1" class="tx" transform="matrix(1.03081,0,0,1.00000,-26.935,0.000)"><text transform="translate(793.40,94.20) scale(0.9236,1)" font-size="28.26" font-weight="normal">Knee Torque</text></g>
<rect x="678.3" y="481.2" width="277.9000000000001" height="87.40000000000003" class="lg"/>
<rect x="694.3" y="498.6" width="84.30000000000007" height="8"/>
<rect x="701.8" y="538.1" width="20.7" height="8"/>
<rect x="730.9" y="538.1" width="20.7" height="8"/>
<rect x="760.0" y="538.1" width="18.6" height="8"/>
<g id="t2" class="tx" transform="matrix(1.01580,0,0,1.00000,-12.939,0.000)"><text transform="translate(785.50,515.00) scale(0.9669,1)" font-size="27.97" font-weight="normal">Ankle Angle</text></g>
<g id="t3" class="tx" transform="matrix(1.01197,0,0,1.00000,-9.933,0.000)"><text transform="translate(785.50,555.10) scale(0.9534,1)" font-size="27.97" font-weight="normal">Ankle Torque</text></g>
<g id="t4" class="tx" transform="matrix(1.08741,0,0,1.07388,-6.529,-2.092)"><text transform="translate(48.00,29.71) scale(0.8137,1)" font-size="29.44" font-weight="normal">100</text></g>
<g id="t5" class="tx" transform="matrix(1.12306,0,0,1.07388,-9.665,-14.283)"><text transform="translate(60.90,194.71) scale(0.8294,1)" font-size="29.44" font-weight="normal">50</text></g>
<g id="t6" class="tx" transform="matrix(1.30943,0,0,1.01859,-25.235,-6.601)"><text transform="translate(75.30,360.72) scale(0.7932,1)" font-size="28.17" font-weight="normal">0</text></g>
<g id="t7" class="tx" transform="matrix(1.12306,0,0,1.06764,-119.829,-2.007)"><text transform="translate(961.30,29.80) scale(0.8254,1)" font-size="29.58" font-weight="normal">50</text></g>
<g id="t8" class="tx" transform="matrix(1.30943,0,0,1.03648,-299.249,-6.297)"><text transform="translate(961.20,194.02) scale(0.8012,1)" font-size="27.89" font-weight="normal">0</text></g>
<g id="t9" class="tx" transform="matrix(1.09175,0,0,1.01484,-89.568,-5.229)"><text transform="translate(961.20,360.72) scale(0.8757,1)" font-size="28.45" font-weight="normal">-50</text></g>
<g id="t10" class="tx" transform="matrix(1.30033,0,0,1.00862,-29.437,-3.191)"><text transform="translate(92.20,383.73) scale(0.8219,1)" font-size="27.18" font-weight="normal">0</text></g>
<g id="t11" class="tx" transform="matrix(1.13043,0,0,1.01859,-34.691,-7.029)"><text transform="translate(254.30,383.72) scale(0.8315,1)" font-size="28.17" font-weight="normal">20</text></g>
<g id="t12" class="tx" transform="matrix(1.09739,0,0,1.01859,-42.585,-7.029)"><text transform="translate(426.00,383.72) scale(0.8827,1)" font-size="28.17" font-weight="normal">40</text></g>
<g id="t13" class="tx" transform="matrix(1.15546,0,0,1.01859,-94.964,-7.029)"><text transform="translate(596.00,383.72) scale(0.8731,1)" font-size="28.17" font-weight="normal">60</text></g>
<g id="t14" class="tx" transform="matrix(1.11076,0,0,1.01859,-86.898,-7.029)"><text transform="translate(767.70,383.72) scale(0.8731,1)" font-size="28.17" font-weight="normal">80</text></g>
<g id="t15" class="tx" transform="matrix(1.09512,0,0,1.01859,-91.744,-7.029)"><text transform="translate(935.50,383.72) scale(0.8418,1)" font-size="28.17" font-weight="normal">100</text></g>
<g id="t16" class="tx" transform="matrix(1.14311,0,0,1.07865,-10.877,-37.988)"><text transform="translate(62.50,490.31) scale(0.8034,1)" font-size="29.15" font-weight="normal">10</text></g>
<g id="t17" class="tx" transform="matrix(1.26694,0,0,1.01859,-21.616,-11.059)"><text transform="translate(75.00,599.93) scale(0.8902,1)" font-size="27.32" font-weight="normal">0</text></g>
<g id="t18" class="tx" transform="matrix(1.09603,0,0,1.03648,-6.632,-25.270)"><text transform="translate(52.40,710.32) scale(0.8909,1)" font-size="27.89" font-weight="normal">-10</text></g>
<g id="t19" class="tx" transform="matrix(1.09603,0,0,1.03648,-6.632,-29.838)"><text transform="translate(52.40,823.52) scale(0.8909,1)" font-size="27.89" font-weight="normal">-20</text></g>
<g id="t20" class="tx" transform="matrix(1.07378,0,0,1.07865,-72.873,-37.988)"><text transform="translate(962.60,490.31) scale(0.8298,1)" font-size="29.15" font-weight="normal">100</text></g>
<g id="t21" class="tx" transform="matrix(1.26345,0,0,1.04896,-255.406,-28.632)"><text transform="translate(961.70,600.03) scale(0.7676,1)" font-size="27.46" font-weight="normal">0</text></g>
<g id="t22" class="tx" transform="matrix(1.07689,0,0,1.03648,-75.854,-25.270)"><text transform="translate(961.70,710.32) scale(0.8714,1)" font-size="27.89" font-weight="normal">-100</text></g>
<g id="t23" class="tx" transform="matrix(1.07689,0,0,1.03648,-75.854,-29.838)"><text transform="translate(961.70,823.52) scale(0.8714,1)" font-size="27.89" font-weight="normal">-200</text></g>
<g id="t24" class="tx" transform="matrix(1.30943,0,0,1.01484,-30.359,-12.345)"><text transform="translate(92.20,846.62) scale(0.7853,1)" font-size="28.45" font-weight="normal">0</text></g>
<g id="t25" class="tx" transform="matrix(1.13043,0,0,1.01484,-34.691,-12.345)"><text transform="translate(254.30,846.62) scale(0.8233,1)" font-size="28.45" font-weight="normal">20</text></g>
<g id="t26" class="tx" transform="matrix(1.09739,0,0,1.01484,-42.585,-12.345)"><text transform="translate(426.00,846.62) scale(0.8740,1)" font-size="28.45" font-weight="normal">40</text></g>
<g id="t27" class="tx" transform="matrix(1.15546,0,0,1.01484,-94.964,-12.345)"><text transform="translate(596.00,846.62) scale(0.8645,1)" font-size="28.45" font-weight="normal">60</text></g>
<g id="t28" class="tx" transform="matrix(1.11419,0,0,1.01484,-89.533,-12.345)"><text transform="translate(767.70,846.62) scale(0.8645,1)" font-size="28.45" font-weight="normal">80</text></g>
<g id="t29" class="tx" transform="matrix(1.09580,0,0,1.01484,-92.399,-12.345)"><text transform="translate(935.50,846.62) scale(0.8335,1)" font-size="28.45" font-weight="normal">100</text></g>
<g id="t30" class="tx" transform="matrix(1.09186,0,0,1.00000,-63.814,0.000)"><text transform="translate(662.70,369.30) scale(0.9080,1)" font-size="27.97" font-weight="normal">Flex</text></g>
<g id="t31" class="tx" transform="matrix(1.01913,0,0,0.98547,-10.013,13.300)"><text transform="translate(470.00,879.73) scale(1.0089,1)" font-size="26.76" font-weight="bold" class="bt">% Stride</text></g>
<g id="t32" class="tx" transform="matrix(0.90404,0,0,1.01395,1.978,-2.783)"><text transform="translate(28.30,352.50) rotate(-90) scale(0.9999,1)" font-size="28.00" font-weight="bold" class="bt">Knee Flexion Angle (deg)</text></g>
<g id="t33" class="tx" transform="matrix(0.88167,0,0,1.01112,122.615,-1.925)"><text transform="translate(1038.40,355.00) rotate(-90) scale(0.9995,1)" font-size="28.00" font-weight="bold" class="bt">Knee Flexion Torque (Nm)</text></g>
<g id="t34" class="tx" transform="matrix(0.88167,0,0,1.00847,3.500,-5.386)"><text transform="translate(33.70,851.20) rotate(-90) scale(1.0001,1)" font-size="28.00" font-weight="bold" class="bt">Ankle Dorsiflexion Angle (deg)</text></g>
<g id="t35" class="tx" transform="matrix(0.81901,0,0,1.00800,187.195,-5.493)"><text transform="translate(1038.20,863.60) rotate(-90) scale(0.9968,1)" font-size="28.00" font-weight="bold" class="bt">Ankle Dorsiflexion Torque (Nm)</text></g>
</svg>
</body></html>
